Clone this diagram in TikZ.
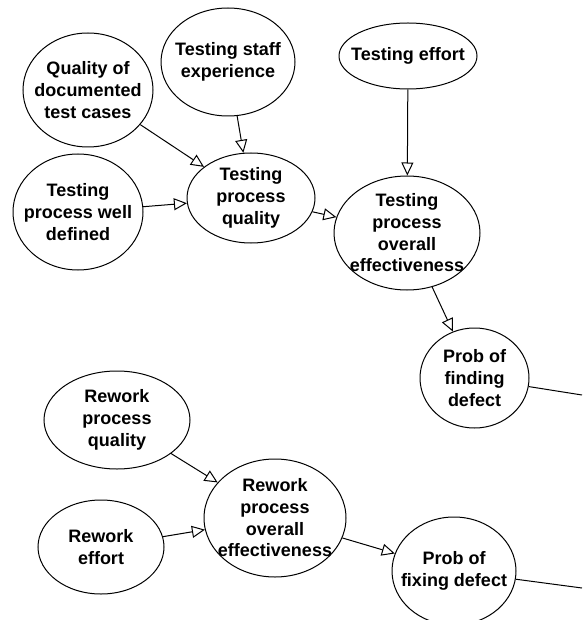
\documentclass[tikz,border=0pt]{standalone}
\usepackage{fontspec}
\setmainfont{Liberation Sans}
\usetikzlibrary{shapes.geometric,arrows.meta}

\begin{document}
\begin{tikzpicture}[x=1pt,y=-1pt,
  bn/.style={draw, ellipse, line width=1pt, align=center, inner xsep=-10pt, inner ysep=-2pt,
    font=\bfseries\fontsize{18}{21.7}\selectfont},
  link/.style={-{Triangle[open,length=13pt,width=12pt]}, line width=1pt}]
  \useasboundingbox (0,0) rectangle (582,620);
  \node(qdoc)[bn, minimum width=130pt, minimum height=114pt] at (88,90) {Quality of\\documented\\test cases};
  \node(staff)[bn, minimum width=134pt, minimum height=108pt] at (228,62) {Testing staff\\experience};
  \node(teff)[bn, minimum width=138pt, minimum height=66pt] at (408,56) {Testing effort};
  \node(twd)[bn, minimum width=130pt, minimum height=116pt] at (78,212) {Testing\\process well\\defined};
  \node(tpq)[bn, minimum width=128pt, minimum height=90pt] at (251,198) {Testing\\process\\quality};
  \node(tpoe)[bn, minimum width=146pt, minimum height=114pt] at (407,233) {Testing\\process\\overall\\effectiveness};
  \node(pfind)[bn, minimum width=109pt, minimum height=100pt] at (474.5,378) {Prob of\\finding\\defect};
  \node(rpq)[bn, minimum width=146pt, minimum height=98pt] at (117,420) {Rework\\process\\quality};
  \node(reff)[bn, minimum width=126pt, minimum height=94pt] at (101,547) {Rework\\effort};
  \node(rpoe)[bn, minimum width=142pt, minimum height=118pt] at (275,518) {Rework\\process\\overall\\effectiveness};
  \node(pfix)[bn, minimum width=124pt, minimum height=108pt] at (454,571) {Prob of\\fixing defect};
  \coordinate(out1) at (582,395);
  \coordinate(out2) at (582,588);
  \draw[link] (qdoc) -- (tpq);
  \draw[link] (staff) -- (tpq);
  \draw[link] (twd) -- (tpq);
  \draw[link] (tpq) -- (tpoe);
  \draw[link] (teff) -- (tpoe);
  \draw[link] (tpoe) -- (pfind);
  \draw[line width=1pt] (pfind) -- (out1);
  \draw[link] (rpq) -- (rpoe);
  \draw[link] (reff) -- (rpoe);
  \draw[link] (rpoe) -- (pfix);
  \draw[line width=1pt] (pfix) -- (out2);
\end{tikzpicture}
\end{document}
